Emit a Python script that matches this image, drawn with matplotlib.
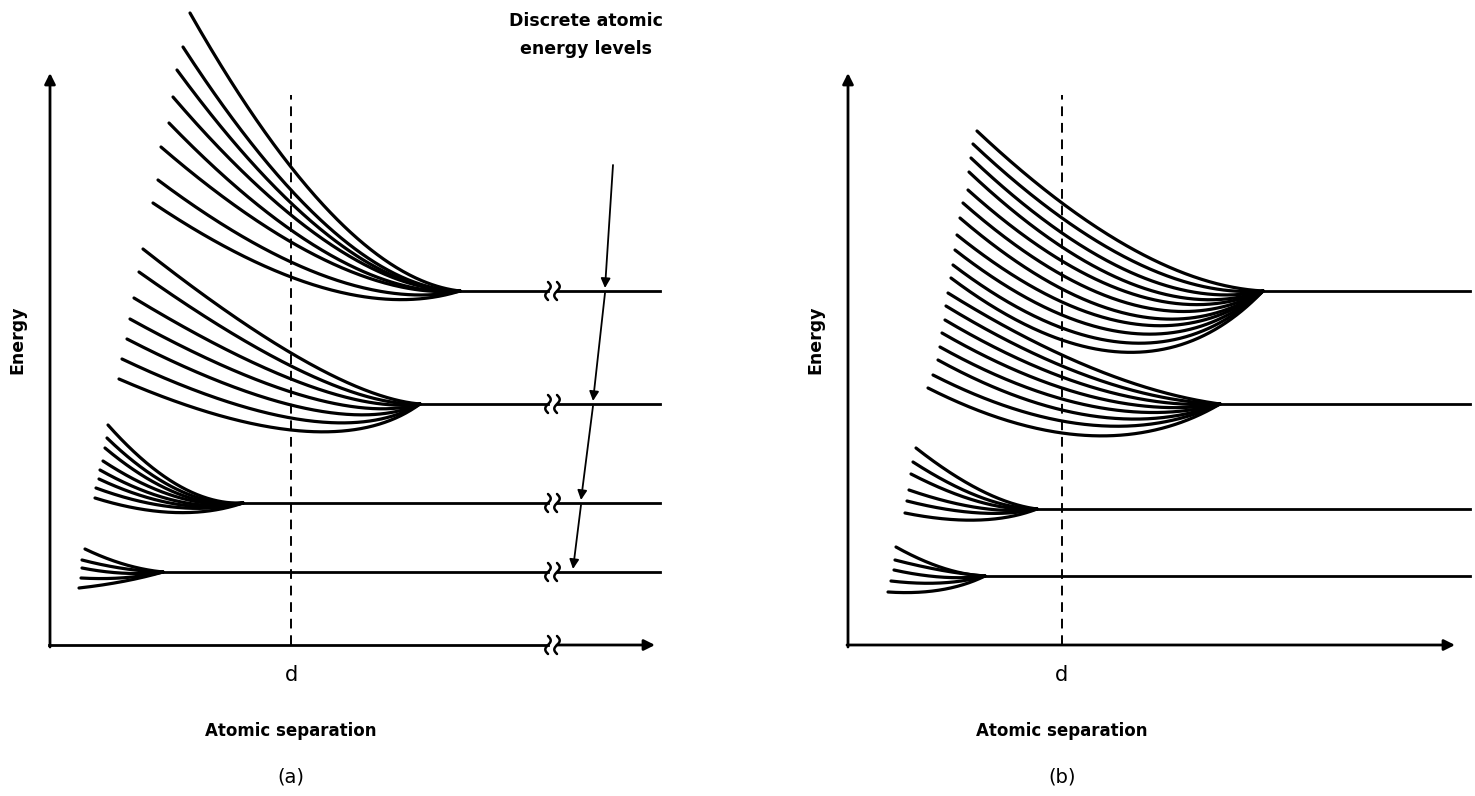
import numpy as np
import matplotlib
matplotlib.use("Agg")
import matplotlib.pyplot as plt

# ---------------- data (separation / energy in arbitrary diagram units) -------------
# Panel (a)
d_a = 241
a_levels = [354, 241, 142, 73]            # discrete atomic energy levels
a_merge = [410, 370, 193, 113]            # separation where the band collapses to the level
a_ctrl = [290, 280, 130, 75]              # shape (knee) separation of each band
a_ref = [241, 241, 115, 70]               # separation where the band energies were read
a_start_sep = [
    [140, 133, 127, 123, 119, 111, 108, 103],
    [93, 89, 84, 80, 77, 72, 69],
    [58, 57, 55, 53, 50, 49, 46, 45],
    [35, 32, 32, 31, 29],
]
a_start_E = [
    [632, 598, 575, 548, 522, 498, 465, 442],
    [396, 373, 347, 326, 306, 286, 266],
    [220, 207, 197, 184, 175, 166, 157, 147],
    [96, 85, 77, 67, 57],
]
a_ref_E = [
    [478, 455, 442, 430, 415, 403, 383, 368],
    [292, 279, 266, 253, 240, 227, 215],
    [168, 162, 157, 152, 147, 143, 139, 133],
    [82, 77, 72, 67, 63],
]

# Panel (b)
d_b = 214
b_levels = [354, 241, 136, 69]
b_merge = [415, 372, 189, 137]
b_ctrl = [292, 252, 137, 97]
b_ref = [214, 214, 132, 92]
b_start_sep = [
    [129, 125, 123, 121, 120, 115, 112, 109, 107, 105, 103],
    [100, 98, 97, 94, 92, 90, 85, 80],
    [68, 65, 63, 61, 59, 57],
    [48, 47, 46, 43, 40],
]
b_start_E = [
    [514, 501, 487, 473, 455, 442, 427, 410, 395, 380, 367],
    [352, 339, 325, 312, 298, 285, 270, 257],
    [197, 183, 171, 155, 144, 132],
    [98, 85, 75, 64, 53],
]
b_ref_E = [
    [442, 427, 412, 398, 384, 370, 356, 343, 330, 317, 305],
    [290, 279, 268, 257, 246, 235, 224, 212],
    [155, 148, 143, 137, 132, 125],
    [78, 75, 68, 62, 55],
]

annot_text = "Discrete atomic\nenergy levels"
axis_xlabel = "Atomic separation"
axis_ylabel = "Energy"
panel_labels = ["(a)", "(b)"]

# ---------------- drawing -------------
W, H = 1475, 796
fig = plt.figure(figsize=(W / 100, H / 100), dpi=100)
FONT = "DejaVu Sans"


def band_curve(x0, y0, xm, L, cx, xr, yr, n=200):
    a = x0 - 2 * cx + xm
    b = 2 * (cx - x0)
    c = x0 - xr
    if abs(a) < 1e-9:
        t = -c / b
    else:
        disc = np.sqrt(b * b - 4 * a * c)
        roots = [(-b + disc) / (2 * a), (-b - disc) / (2 * a)]
        t = [r for r in roots if 0 <= r <= 1][0]
    cy = (yr - (1 - t) ** 2 * y0 - t ** 2 * L) / (2 * t * (1 - t))
    tt = np.linspace(0, 1, n)
    xs = (1 - tt) ** 2 * x0 + 2 * tt * (1 - tt) * cx + tt ** 2 * xm
    ys = (1 - tt) ** 2 * y0 + 2 * tt * (1 - tt) * cy + tt ** 2 * L
    return xs, ys


def squiggle(ax, xb, y, h=9, amp=3.0):
    yy = np.linspace(-h, h, 40)
    xx = xb + amp * np.sin(np.pi * yy / h) * 0.9
    ax.plot(xx, y + yy, color="k", lw=1.8, solid_capstyle="round")


def make_panel(left_px, origin_px, levels, merge, ctrl, ref, ssep, sE, rE,
               d, level_end, xaxis_end, breaks, label):
    ax = fig.add_axes([left_px / W, 0, (W / 2) / W, 1])
    ox = origin_px - left_px
    ax.set_xlim(-ox, W / 2 - ox)
    ax.set_ylim(-(H - 645), 645)
    ax.axis("off")

    # axes with arrows
    ax.annotate("", xy=(0, 572), xytext=(0, -2),
                arrowprops=dict(arrowstyle="-|>", lw=2.0, color="k",
                                mutation_scale=16, shrinkA=0, shrinkB=0))
    if breaks:
        b1, b2 = breaks
        ax.plot([-1, b1], [0, 0], color="k", lw=2.0)
        ax.annotate("", xy=(xaxis_end, 0), xytext=(b2, 0),
                    arrowprops=dict(arrowstyle="-|>", lw=2.0, color="k",
                                    mutation_scale=16, shrinkA=0, shrinkB=0))
        squiggle(ax, b1, 0)
        squiggle(ax, b2, 0)
    else:
        ax.annotate("", xy=(xaxis_end, 0), xytext=(-1, 0),
                    arrowprops=dict(arrowstyle="-|>", lw=2.0, color="k",
                                    mutation_scale=16, shrinkA=0, shrinkB=0))

    # equilibrium separation
    ax.plot([d, d], [0, 550], color="k", lw=1.4, ls=(0, (5, 3.5)))

    for i, L in enumerate(levels):
        if breaks:
            b1, b2 = breaks
            ax.plot([merge[i], b1], [L, L], color="k", lw=2.0)
            ax.plot([b2, level_end], [L, L], color="k", lw=2.0)
            squiggle(ax, b1, L)
            squiggle(ax, b2, L)
        else:
            ax.plot([merge[i], level_end], [L, L], color="k", lw=2.0)
        for x0, y0, yr in zip(ssep[i], sE[i], rE[i]):
            xs, ys = band_curve(x0, y0, merge[i], L, ctrl[i], ref[i], yr)
            ax.plot(xs, ys, color="k", lw=2.3, solid_capstyle="round")

    ax.text(-33, 305, axis_ylabel, rotation=90, ha="center", va="center",
            fontsize=12.5, fontweight="bold", family=FONT)
    ax.text(d, -30, "d", ha="center", va="center", fontsize=15, family=FONT)
    ax.text(d, -86, axis_xlabel, ha="center", va="center", fontsize=12,
            fontweight="bold", family=FONT)
    ax.text(d, -132, label, ha="center", va="center", fontsize=14, family=FONT)
    return ax


ax_a = make_panel(0, 50, a_levels, a_merge, a_ctrl, a_ref, a_start_sep,
                  a_start_E, a_ref_E, d_a, 610, 605, (498, 507), panel_labels[0])
ax_b = make_panel(W / 2, 848, b_levels, b_merge, b_ctrl, b_ref, b_start_sep,
                  b_start_E, b_ref_E, d_b, 622, 607, None, panel_labels[1])

# annotation: discrete atomic energy levels
ax_a.text(536, 610, annot_text, ha="center", va="center", fontsize=12.5,
          linespacing=1.75, family=FONT, fontweight="semibold")
pts = [(563, 480), (555, 354), (543, 241), (531, 142), (523, 73)]
for k, ((x1, y1), (x2, y2)) in enumerate(zip(pts[:-1], pts[1:])):
    start_y = y1 if k == 0 else y1 - 2
    ax_a.annotate("", xy=(x2, y2 + 3), xytext=(x1, start_y),
                  arrowprops=dict(arrowstyle="-|>", lw=1.3, color="k",
                                  mutation_scale=14, shrinkA=0, shrinkB=0))

fig.savefig("out.png", dpi=100)
